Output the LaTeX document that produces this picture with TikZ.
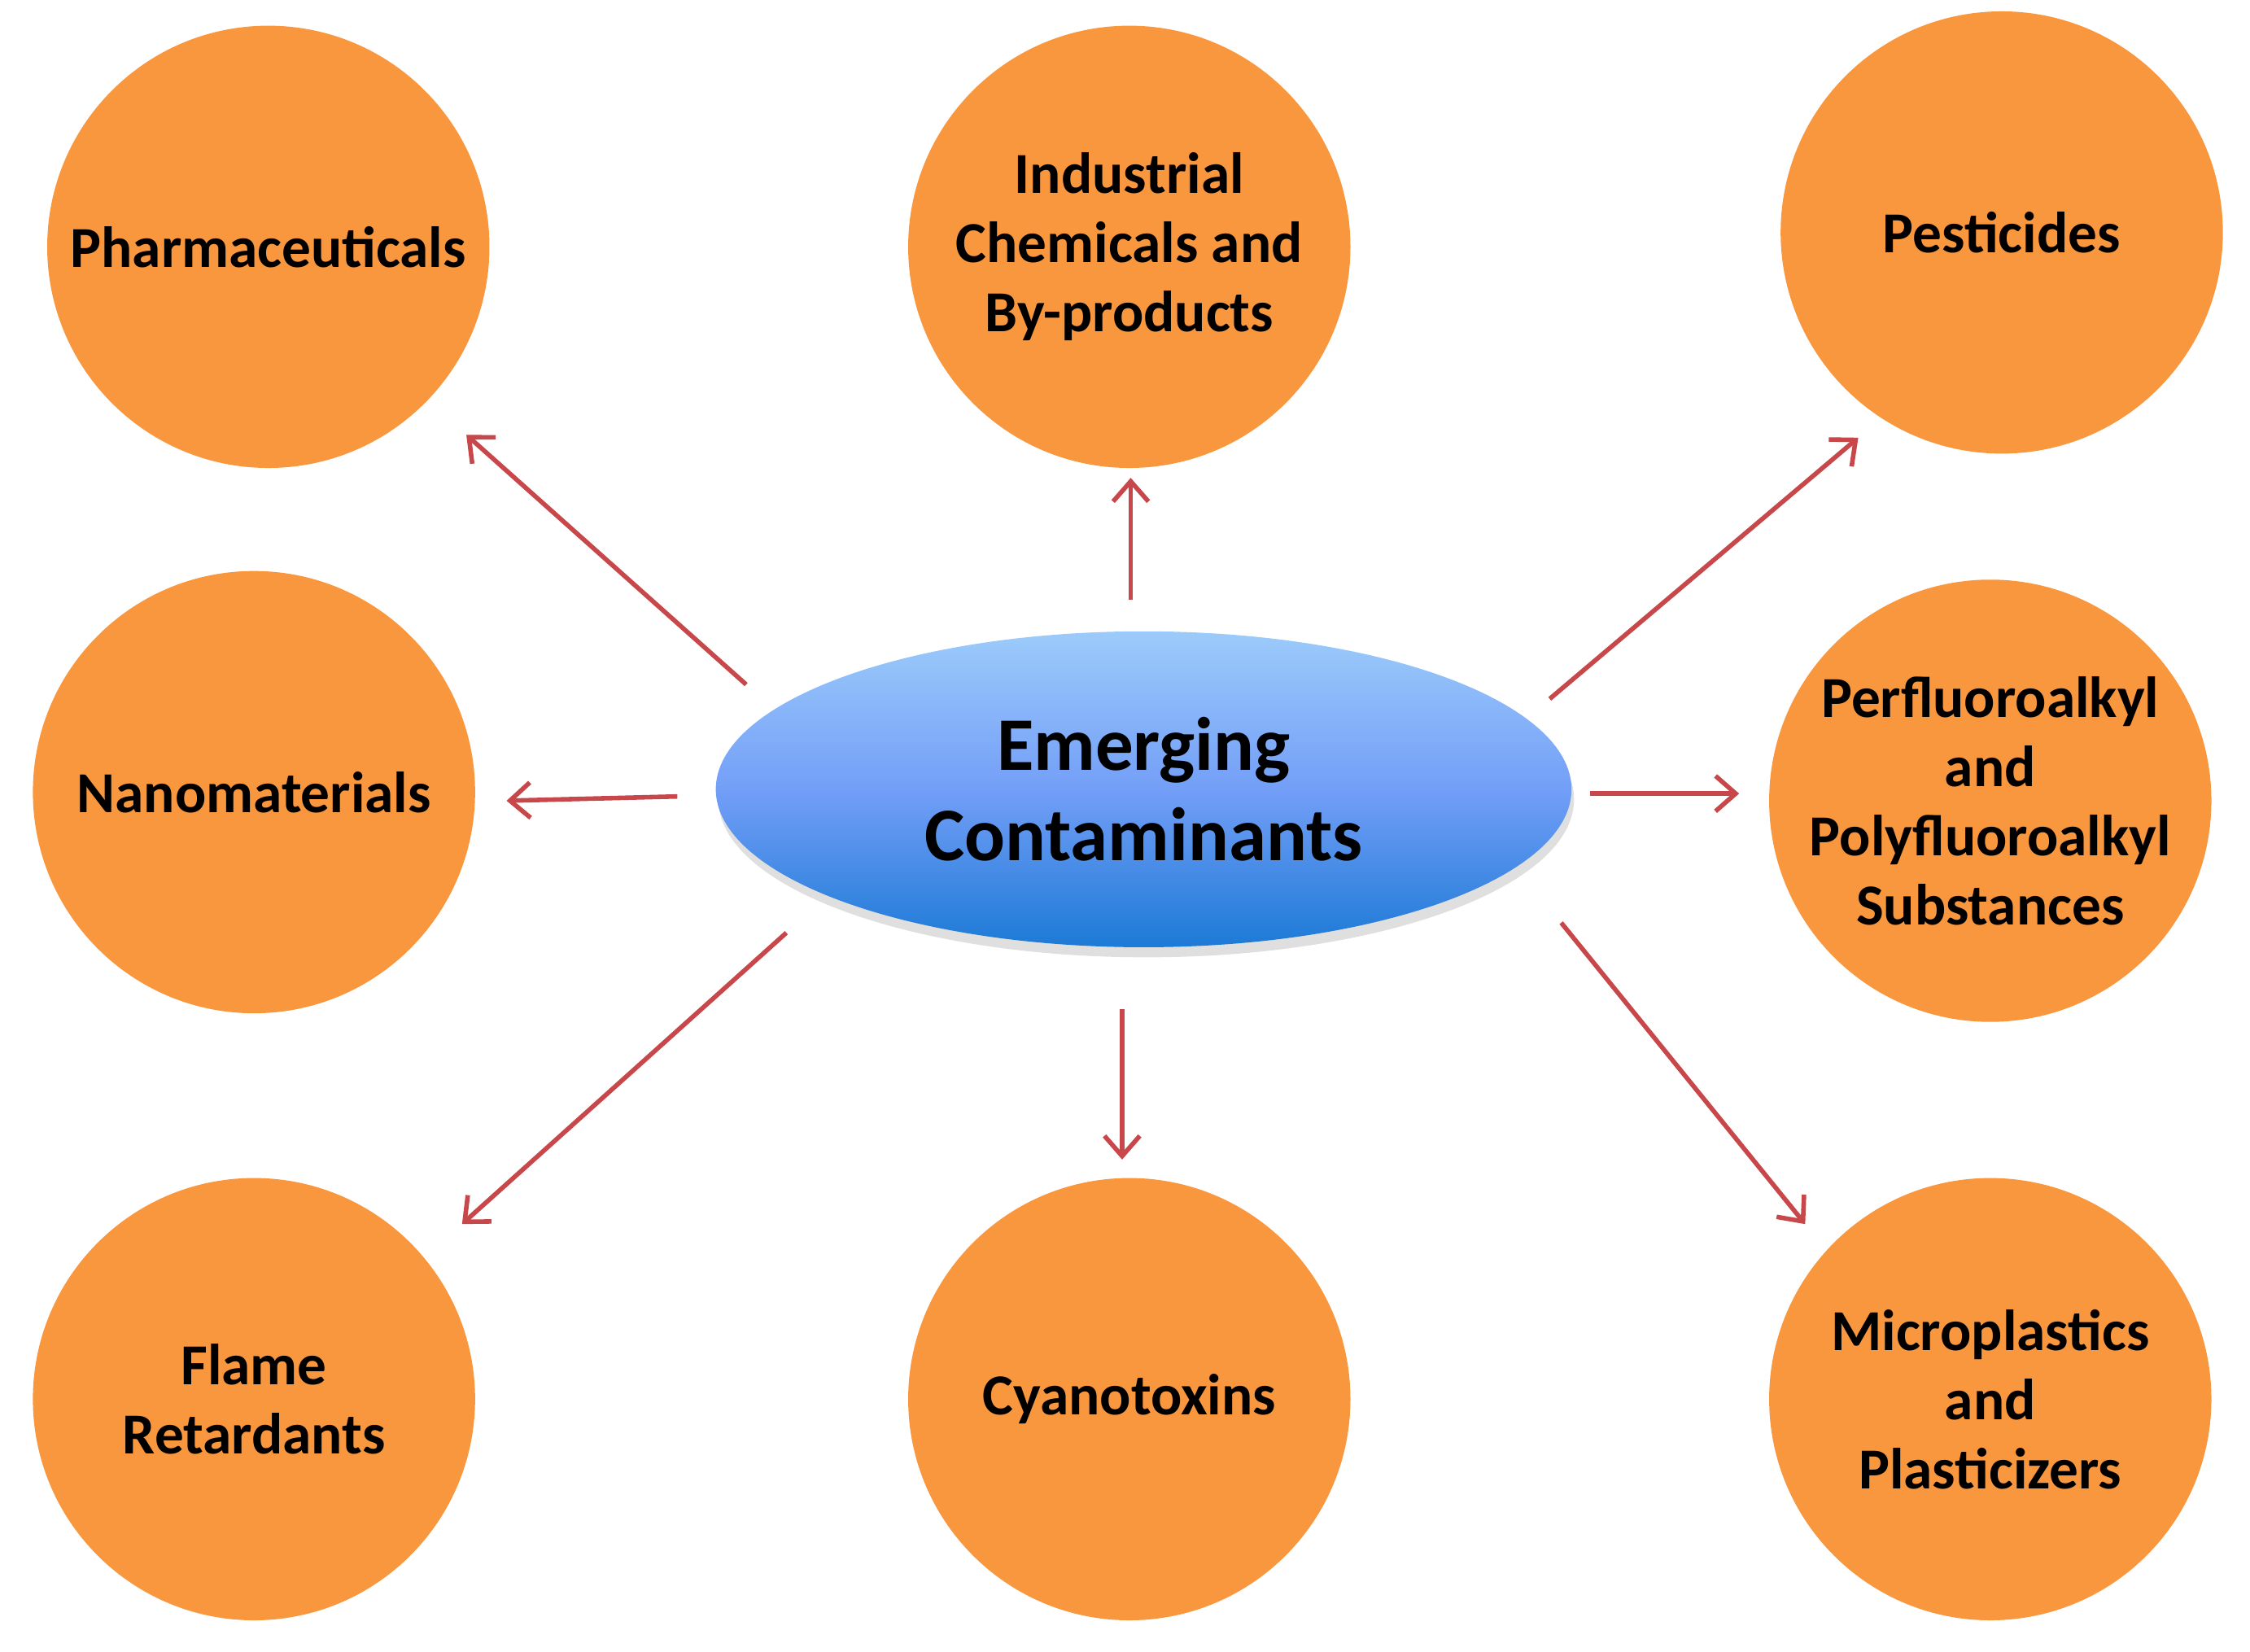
\documentclass[tikz,border=0pt]{standalone}
\usepackage{fontspec}
\setmainfont{Carlito}
\usetikzlibrary{shapes.geometric,arrows.meta,shadows}
\definecolor{orng}{HTML}{F9973F}
\definecolor{arr}{HTML}{C8474A}
\definecolor{bltop}{HTML}{9CCBFA}
\definecolor{blbot}{HTML}{1C7AD6}
\begin{document}
\begin{tikzpicture}[x=0.01cm,y=-0.01cm,
  cat/.style={circle,fill=orng,minimum size=3.08cm,inner sep=0pt,align=center,font=\bfseries\fontsize{11.5}{13.7}\selectfont},
  ar/.style={draw=arr,line width=0.9pt,-{Straight Barb[length=4pt,width=7pt]}}]
\useasboundingbox (0,0) rectangle (1568,1151);
\node[ellipse,minimum width=5.96cm,minimum height=2.2cm,top color=bltop,bottom color=blbot,middle color=blue!20!bltop!90!blbot,shading angle=0,drop shadow={opacity=0.25,shadow xshift=0.5pt,shadow yshift=-2pt},align=center,font=\bfseries\fontsize{15}{17.8}\selectfont] (ec) at (797,550) {Emerging\\Contaminants};
\node[cat] (ph) at (187,172) {Pharmaceuticals};
\node[cat] (in) at (787,172) {Industrial\\Chemicals and\\By-products};
\node[cat] (pe) at (1395,162) {Pesticides};
\node[cat] (na) at (177,552) {Nanomaterials};
\node[cat] (pf) at (1387,558) {Perfluoroalkyl\\and\\Polyfluoroalkyl\\Substances};
\node[cat] (fl) at (177,975) {Flame\\Retardants};
\node[cat] (cy) at (787,975) {Cyanotoxins};
\node[cat] (mi) at (1387,975) {Microplastics\\and\\Plasticizers};
\coordinate (a1) at (520,477); \coordinate (b1) at (325,303);
\coordinate (a2) at (788,418); \coordinate (b2) at (788,333);
\coordinate (a3) at (1080,487); \coordinate (b3) at (1295,305);
\coordinate (a4) at (472,555); \coordinate (b4) at (353,558);
\coordinate (a5) at (1108,553); \coordinate (b5) at (1212,553);
\coordinate (a6) at (548,650); \coordinate (b6) at (322,853);
\coordinate (a7) at (782,703); \coordinate (b7) at (782,808);
\coordinate (a8) at (1088,643); \coordinate (b8) at (1258,853);
\foreach \i in {1,...,8}{\draw[ar] (a\i) -- (b\i);}
\end{tikzpicture}
\end{document}
